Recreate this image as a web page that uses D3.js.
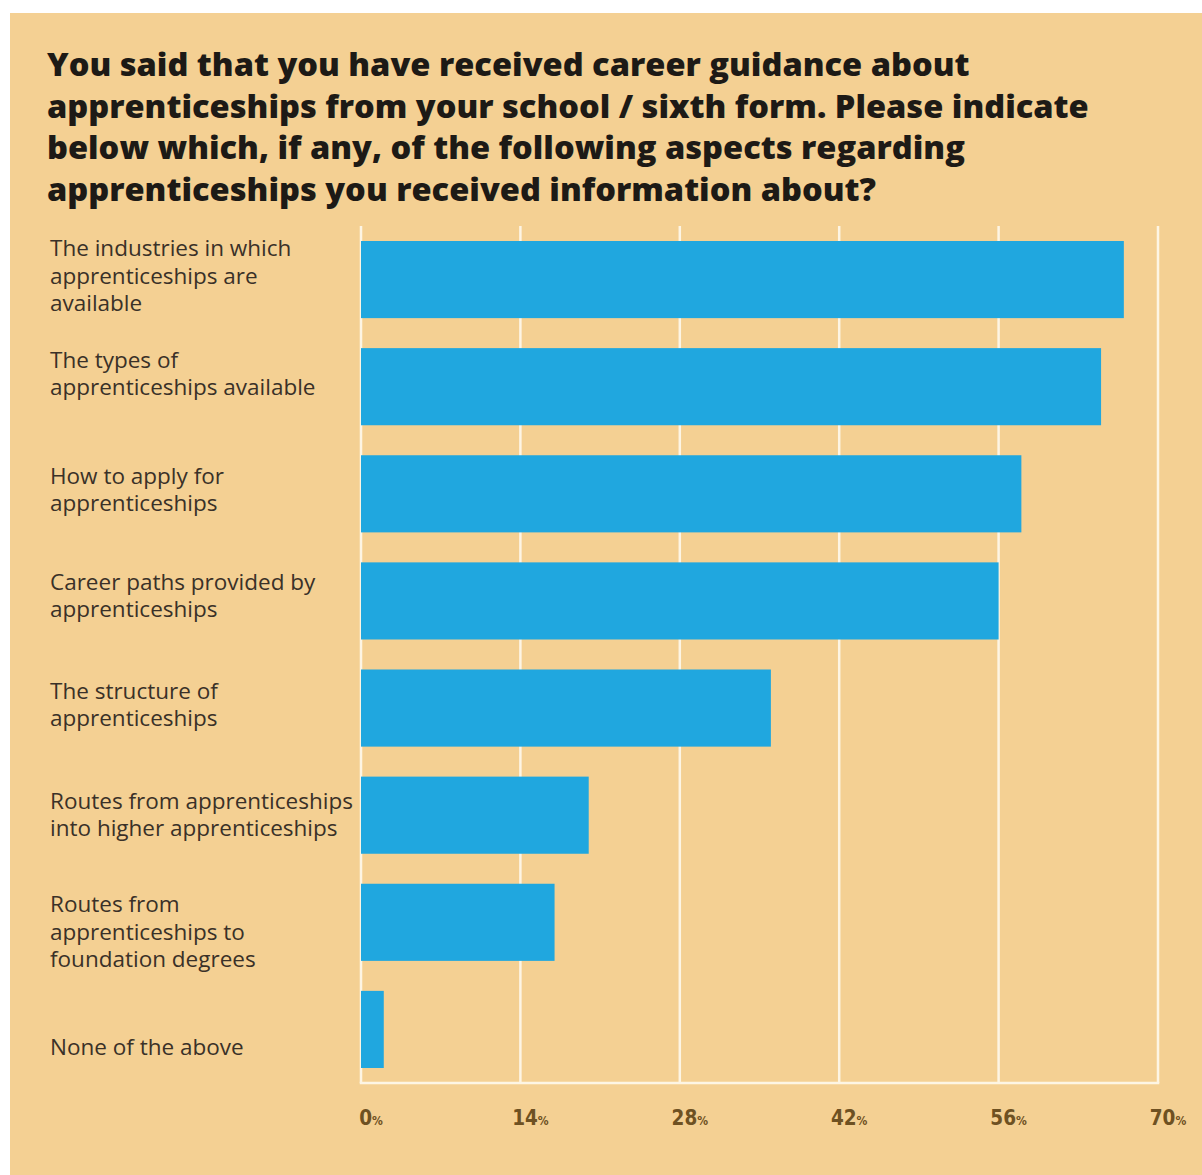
<!DOCTYPE html>
<html>
<head>
<meta charset="utf-8">
<script src="https://cdn.jsdelivr.net/npm/d3@7/dist/d3.min.js"></script>
<style>
  html, body { margin: 0; padding: 0; background: #ffffff; }
  svg { display: block; }
</style>
</head>
<body>
<svg id="chart" width="1202" height="1175"></svg>
<script>
// Survey answers: share of respondents (%) who received information on each aspect
const categories = [
  "The industries in which\napprenticeships are\navailable",
  "The types of\napprenticeships available",
  "How to apply for\napprenticeships",
  "Career paths provided by\napprenticeships",
  "The structure of\napprenticeships",
  "Routes from apprenticeships\ninto higher apprenticeships",
  "Routes from\napprenticeships to\nfoundation degrees",
  "None of the above"
];
const values = [67, 65, 58, 56, 36, 20, 17, 2];
const tickValues = [0, 14, 28, 42, 56, 70];
const titleLines = [
  "You said that you have received career guidance about",
  "apprenticeships from your school / sixth form. Please indicate",
  "below which, if any, of the following aspects regarding",
  "apprenticeships you received information about?"
];

const svg = d3.select("#chart");
const W = 1202, H = 1175;

// sand-coloured panel
svg.append("rect")
  .attr("x", 10).attr("y", 13)
  .attr("width", W - 10).attr("height", H - 13)
  .attr("fill", "#f4d093");

// title
const title = svg.append("text")
  .attr("font-family", "'Open Sans', 'DejaVu Sans', sans-serif")
  .attr("font-weight", 800)
  .attr("font-size", 32.6)
  .attr("fill", "#1d1a16");
title.selectAll("tspan")
  .data(titleLines)
  .join("tspan")
  .attr("x", 47)
  .attr("y", (d, i) => 76 + i * 41.5)
  .text(d => d);

// scales
const x = d3.scaleLinear().domain([0, 70]).range([361, 1158]);
const y = d3.scaleBand()
  .domain(categories)
  .range([226, 1083])
  .paddingInner(0.28)
  .paddingOuter(0.14);

const gridColor = "#fdf5e4";

// vertical grid lines
svg.append("g")
  .selectAll("line")
  .data(tickValues)
  .join("line")
  .attr("x1", d => x(d)).attr("x2", d => x(d))
  .attr("y1", y.range()[0]).attr("y2", y.range()[1])
  .attr("stroke", gridColor)
  .attr("stroke-width", 2.5);

// baseline
svg.append("line")
  .attr("x1", x(0) - 1.25).attr("x2", x(70) + 1.25)
  .attr("y1", y.range()[1]).attr("y2", y.range()[1])
  .attr("stroke", gridColor)
  .attr("stroke-width", 2.5);

// bars
svg.append("g")
  .selectAll("rect")
  .data(values)
  .join("rect")
  .attr("x", x(0))
  .attr("y", (d, i) => y(categories[i]))
  .attr("width", d => x(d) - x(0))
  .attr("height", y.bandwidth())
  .attr("fill", "#20a7df");

// category labels (first line placed relative to bar top)
const labelNudge = [7, 11, 20, 19, 21, 24, 20, 56];
const labels = svg.append("g")
  .attr("font-family", "'Open Sans', 'DejaVu Sans', sans-serif")
  .attr("font-size", 22.5)
  .attr("fill", "#3a3128");
categories.forEach((c, i) => {
  const t = labels.append("text");
  c.split("\n").forEach((line, j) => {
    t.append("tspan")
      .attr("x", 50)
      .attr("y", y(c) + labelNudge[i] + 8.5 + j * 27.3)
      .text(line);
  });
});

// x tick labels: number with a small percent sign
const ticks = svg.append("g")
  .attr("font-family", "'Liberation Sans Narrow', 'DejaVu Sans Condensed', 'Roboto', sans-serif")
  .attr("font-weight", 700)
  .attr("fill", "#6e5122");
tickValues.forEach(v => {
  const t = ticks.append("text")
    .attr("x", x(v) + 10)
    .attr("y", 1125)
    .attr("text-anchor", "middle");
  t.append("tspan").attr("font-size", 20.5).text(v);
  t.append("tspan").attr("font-size", 12).text("%");
});
</script>
</body>
</html>
